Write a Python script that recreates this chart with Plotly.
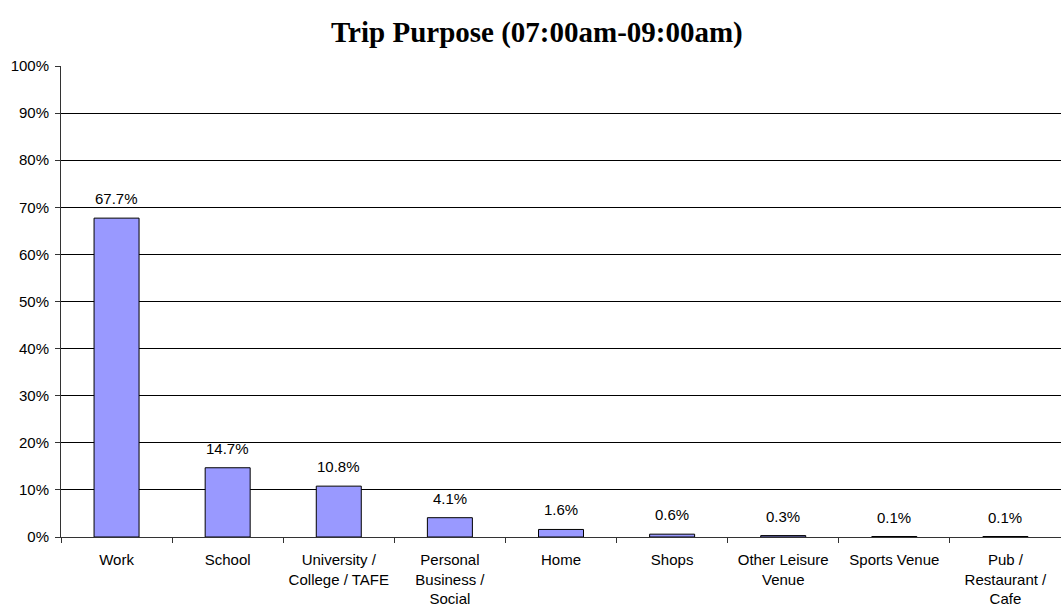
import plotly.graph_objects as go

categories = [
    "Work", "School", "University /<br>College / TAFE", "Personal<br>Business /<br>Social",
    "Home", "Shops", "Other Leisure<br>Venue", "Sports Venue", "Pub /<br>Restaurant /<br>Cafe",
]
shares = [67.7, 14.7, 10.8, 4.1, 1.6, 0.6, 0.3, 0.1, 0.1]
y_ticks = [0, 10, 20, 30, 40, 50, 60, 70, 80, 90, 100]
y_tick_labels = [f"{v}%" for v in y_ticks]

SANS = "Liberation Sans, Arial, sans-serif"

fig = go.Figure(
    go.Bar(
        x=categories,
        y=shares,
        marker=dict(color="#9999FF", line=dict(color="black", width=1)),
        hoverinfo="x+y",
    )
)

# value labels sit a little above each bar
for cat, val in zip(categories, shares):
    fig.add_annotation(
        x=cat,
        y=val,
        text=f"{val:.1f}%",
        showarrow=False,
        yanchor="bottom",
        yshift=9,
        font=dict(family=SANS, size=15, color="black"),
    )

fig.update_layout(
    width=1061,
    height=606,
    margin=dict(l=61, r=0, t=66, b=69),
    paper_bgcolor="white",
    plot_bgcolor="white",
    bargap=0.595,
    showlegend=False,
    title=dict(
        text="<b>Trip Purpose (07:00am-09:00am)</b>",
        font=dict(family="Liberation Serif, Times New Roman, serif", size=29, color="black"),
        x=0.506,
        xanchor="center",
        y=0.947,
        yanchor="middle",
    ),
    font=dict(family=SANS, size=15, color="black"),
)

fig.update_xaxes(
    type="category",
    tickson="boundaries",
    ticks="outside",
    ticklen=5,
    tickcolor="#333333",
    showline=True,
    linecolor="#333333",
    linewidth=1,
    showgrid=False,
    tickfont=dict(family=SANS, size=15, color="black"),
    ticklabelstandoff=9,
)

fig.update_yaxes(
    range=[0, 100],
    tickvals=y_ticks,
    ticktext=y_tick_labels,
    ticks="outside",
    ticklen=5,
    tickcolor="#333333",
    showline=True,
    linecolor="#333333",
    linewidth=1,
    showgrid=True,
    gridcolor="black",
    gridwidth=1,
    zeroline=False,
    tickfont=dict(family=SANS, size=15, color="black"),
    ticklabelstandoff=3,
)

fig.write_html("out.html")
